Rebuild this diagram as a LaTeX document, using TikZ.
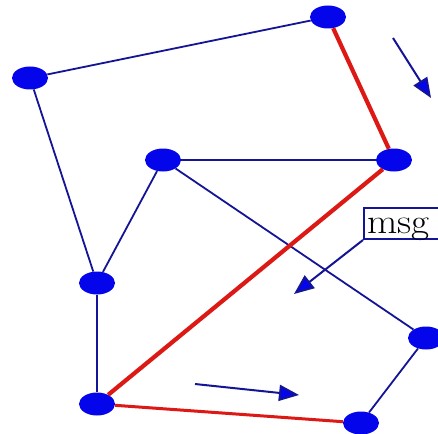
\documentclass[tikz,border=0pt]{standalone}
\usepackage{graphicx}
\usetikzlibrary{shapes.geometric,arrows.meta}
\definecolor{nodeblue}{RGB}{5,5,235}
\definecolor{edgeblue}{RGB}{20,20,150}
\definecolor{pathred}{RGB}{220,25,20}
\tikzset{
  vtx/.style={ellipse, fill=nodeblue, draw=none, minimum width=36pt, minimum height=23pt, inner sep=0pt},
  edge/.style={edgeblue, line width=1.8pt},
  redpath/.style={pathred, line width=4.2pt},
  redthin/.style={pathred, line width=3pt},
  flow/.style={edgeblue, line width=2pt, -{Triangle[length=20pt,width=16pt,fill=nodeblue]}},
  msgbox/.style={draw=edgeblue, line width=2pt, rectangle, inner ysep=0pt, inner xsep=3pt,
    text height=25pt, text depth=6pt, text width=80pt, align=left, anchor=north west}
}
\begin{document}
\begin{tikzpicture}[x=1pt,y=-1pt]
\clip (0,0) rectangle (438,433);
\useasboundingbox (0,0) rectangle (438,433);
\fill[white] (0,0) rectangle (438,433);
\node[vtx] (A) at (328,17) {};
\node[vtx] (B) at (30,78) {};
\node[vtx] (C) at (394,160) {};
\node[vtx] (D) at (163,160) {};
\node[vtx] (E) at (97,283) {};
\node[vtx] (F) at (97,404) {};
\node[vtx] (G) at (426,338) {};
\node[vtx] (H) at (361,423) {};
\node[msgbox] (msg) at (363,207) {\fontsize{35}{35}\selectfont\scalebox{1.12}[1]{msg}};
\coordinate (a1s) at (393,38);
\coordinate (a1e) at (431,98);
\coordinate (a2e) at (294,294);
\coordinate (a3s) at (195,384);
\coordinate (a3e) at (299,395);
\draw[edge] (B) -- (A);
\draw[edge] (B) -- (E);
\draw[edge] (D) -- (C);
\draw[edge] (D) -- (E);
\draw[edge] (D) -- (G);
\draw[edge] (G) -- (H);
\draw[edge] (E) -- (F);
\draw[redpath] (A) -- (C);
\draw[redpath] (C) -- (F);
\draw[redthin] (F) -- (H);
\draw[flow] (a1s) -- (a1e);
\draw[flow] (msg.south west) -- (a2e);
\draw[flow] (a3s) -- (a3e);
\end{tikzpicture}
\end{document}
